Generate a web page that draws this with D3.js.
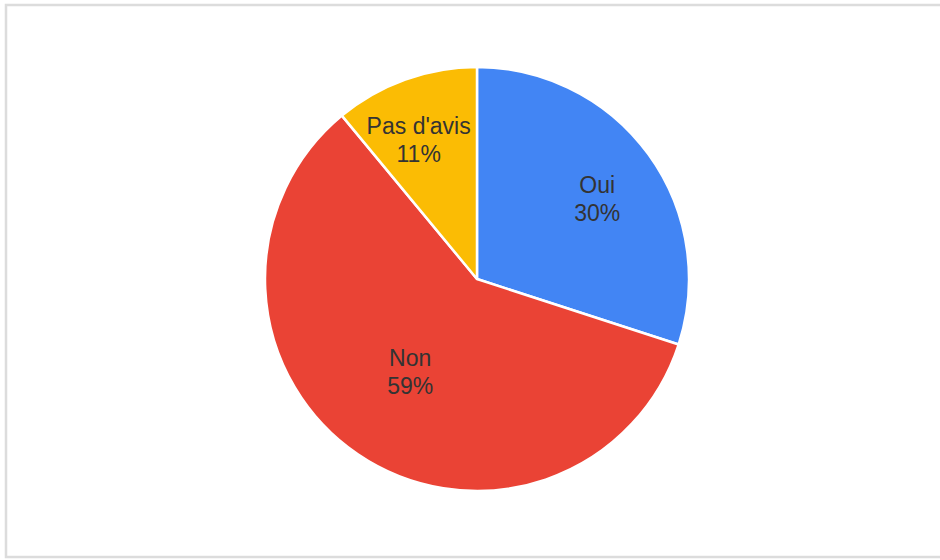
<!DOCTYPE html>
<html>
<head>
<meta charset="utf-8">
<script src="https://cdn.jsdelivr.net/npm/d3@7/dist/d3.min.js"></script>
<style>
  html, body { margin: 0; padding: 0; background: #fff; }
  svg { display: block; }
</style>
</head>
<body>
<svg id="chart" width="940" height="560"></svg>
<script>
// Survey answers and their shares (percent)
const categories = ["Oui", "Non", "Pas d'avis"];
const shares = [30, 59, 11];
const colors = ["#4285f4", "#ea4335", "#fbbc04"];

const W = 940, H = 560;
const cx = 477, cy = 279, R = 212;

const svg = d3.select("#chart");

// light frame around the chart area
svg.append("rect")
  .attr("x", 6).attr("y", 5)
  .attr("width", 960).attr("height", 552)
  .attr("fill", "#fff")
  .attr("stroke", "#dcdcdc")
  .attr("stroke-width", 2.5);

const data = categories.map((c, i) => ({ label: c, value: shares[i], color: colors[i] }));

const pie = d3.pie().value(d => d.value).sort(null);
const arcs = pie(data);

const arc = d3.arc().innerRadius(0).outerRadius(R);

const g = svg.append("g").attr("transform", `translate(${cx},${cy})`);

g.selectAll("path.slice")
  .data(arcs)
  .join("path")
  .attr("class", "slice")
  .attr("d", arc)
  .attr("fill", d => d.data.color)
  .attr("stroke", "#fff")
  .attr("stroke-width", 2.5)
  .attr("stroke-linejoin", "round");

// label placement: radius fraction and angular nudge (degrees) per slice
const labelPlace = {
  "Oui": { frac: 0.68, shift: 2.5 },
  "Non": { frac: 0.54, shift: 1.5 },
  "Pas d'avis": { frac: 0.71, shift: -3 }
};

const labels = g.selectAll("text.lbl")
  .data(arcs)
  .join("text")
  .attr("class", "lbl")
  .attr("transform", d => {
    const p = labelPlace[d.data.label];
    const r = R * p.frac;
    const a = (d.startAngle + d.endAngle) / 2 + p.shift * Math.PI / 180;
    const x = r * Math.sin(a), y = -r * Math.cos(a);
    return `translate(${x},${y})`;
  })
  .attr("text-anchor", "middle")
  .attr("font-family", "'Liberation Sans', Arial, sans-serif")
  .attr("font-size", 23)
  .attr("fill", "#333");

labels.append("tspan")
  .attr("x", 0).attr("y", -6)
  .text(d => d.data.label);
labels.append("tspan")
  .attr("x", 0).attr("y", 22)
  .text(d => d.data.value + "%");
</script>
</body>
</html>
